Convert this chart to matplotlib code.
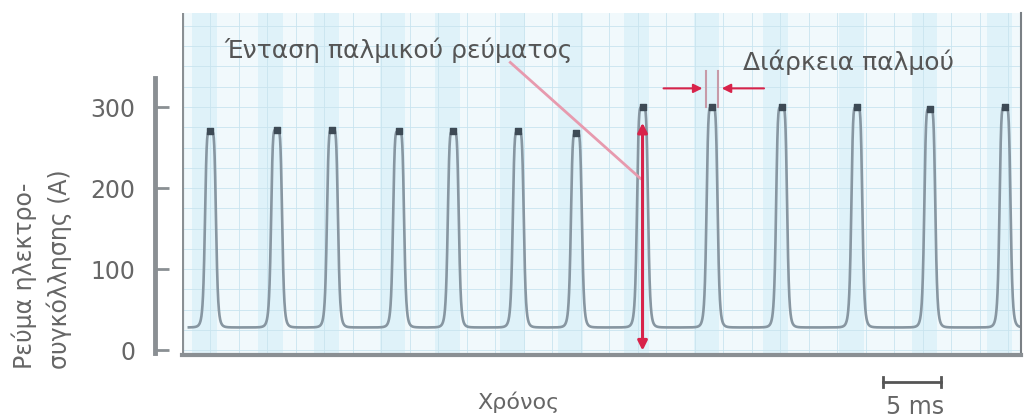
import numpy as np
import matplotlib.pyplot as plt

# pulse data (time in ms, current in A)
pulse_t = [2.5, 8.3, 13.2, 19.0, 23.8, 29.5, 34.6, 40.4, 46.5, 52.6, 59.2, 65.6, 72.2]
pulse_peak = [270, 272, 272, 270, 270, 270, 268, 300, 300, 300, 300, 298, 300]
base_current = 28
half_width = 0.5  # ms
y_ticks = [0, 100, 200, 300]

fig = plt.figure(figsize=(10.24, 4.19), dpi=100)
ax = fig.add_axes([182 / 1024, 1 - 355 / 419, (1021 - 182) / 1024, (355 - 13) / 419])

ax.set_facecolor('#f1f9fc')
ax.set_xlim(0, 73.6)
ax.set_ylim(-6, 416)

# faint vertical bands of the scanned screen
for t in pulse_t:
    ax.axvspan(t - 1.6, t + 0.6, color='#bfe6f5', alpha=0.35, lw=0)

ax.set_xticks(np.arange(0, 74, 2.5), minor=True)
ax.set_yticks(np.arange(0, 416, 25), minor=True)
ax.grid(True, which='minor', color='#c9e4ef', lw=0.6)
ax.set_xticks([])
ax.set_yticks([])
ax.tick_params(which='both', length=0, labelleft=False, labelbottom=False)

# build the waveform from the pulse list
t = np.linspace(0.6, 73.6, 8000)
i = np.full_like(t, base_current, dtype=float)
for tc, pk in zip(pulse_t, pulse_peak):
    shape = 1 / (1 + (np.abs(t - tc) / half_width) ** 6)
    i = np.maximum(i, base_current + (pk - base_current) * shape)
ax.plot(t, i, color='#8796a1', lw=1.9)
ax.scatter(pulse_t, pulse_peak, s=14, color='#3d4a55', marker='s', zorder=3)

# frame
ax.spines['top'].set_visible(False)
ax.spines['bottom'].set_color('#8a8f93')
ax.spines['bottom'].set_linewidth(3)
ax.spines['right'].set_color('#7a8085')
ax.spines['right'].set_linewidth(1.5)
ax.spines['left'].set_visible(False)
ax.axvline(0, color='#8a8f93', lw=3)

# separate current scale on the left
yax = fig.add_axes([155 / 1024, 1 - 355 / 419, 0.001, (355 - 13) / 419])
yax.set_ylim(-6, 416)
yax.set_xticks([])
for s in ['top', 'right', 'bottom']:
    yax.spines[s].set_visible(False)
yax.spines['left'].set_bounds(-3, 336)
yax.spines['left'].set_color('#8a8f93')
yax.spines['left'].set_linewidth(3.5)
yax.patch.set_visible(False)
yax.set_yticks(y_ticks)
yax.tick_params(axis='y', direction='in', length=10, width=2, color='#8a8f93',
                labelsize=17, labelcolor='#666666', pad=14)
fig.text(42 / 1024, 1 - 369 / 419, 'Ρεύμα ηλεκτρο-\nσυγκόλλησης (A)', fontsize=17,
         color='#666666', rotation=90, ha='center', va='bottom', multialignment='left',
         linespacing=1.45)

# annotations
ax.text(3.7, 370, 'Ένταση παλμικού ρεύματος', fontsize=18, color='#555555', va='center')
ax.plot([28.8, 40.2], [355, 212], color='#e79aae', lw=2)
ax.annotate('', xy=(40.4, 284), xytext=(40.4, -4),
            arrowprops=dict(arrowstyle='<|-|>', color='#d8234a', lw=2.2, mutation_scale=14))

ax.text(49.2, 355, 'Διάρκεια παλμού', fontsize=18, color='#555555', va='center')
ax.plot([46.0, 46.0], [300, 345], color='#c79aa8', lw=1.5)
ax.plot([47.0, 47.0], [300, 345], color='#c79aa8', lw=1.5)
ax.annotate('', xy=(45.9, 323), xytext=(42.0, 323),
            arrowprops=dict(arrowstyle='-|>', color='#d8234a', lw=1.5, mutation_scale=13))
ax.annotate('', xy=(47.1, 323), xytext=(51.3, 323),
            arrowprops=dict(arrowstyle='-|>', color='#d8234a', lw=1.5, mutation_scale=13))

# time axis label and scale bar
fig.text(518 / 1024, 1 - 402 / 419, 'Χρόνος', fontsize=16, color='#666666', ha='center', va='center')
fig.lines.append(plt.Line2D([883 / 1024, 941 / 1024], [1 - 382 / 419] * 2, color='#555555', lw=2,
                            transform=fig.transFigure))
for xp in [883, 941]:
    fig.lines.append(plt.Line2D([xp / 1024] * 2, [1 - 377 / 419, 1 - 387 / 419], color='#555555',
                                lw=2, transform=fig.transFigure))
fig.text(915 / 1024, 1 - 407 / 419, '5 ms', fontsize=17, color='#666666', ha='center', va='center')

fig.savefig('out.png', dpi=100)
